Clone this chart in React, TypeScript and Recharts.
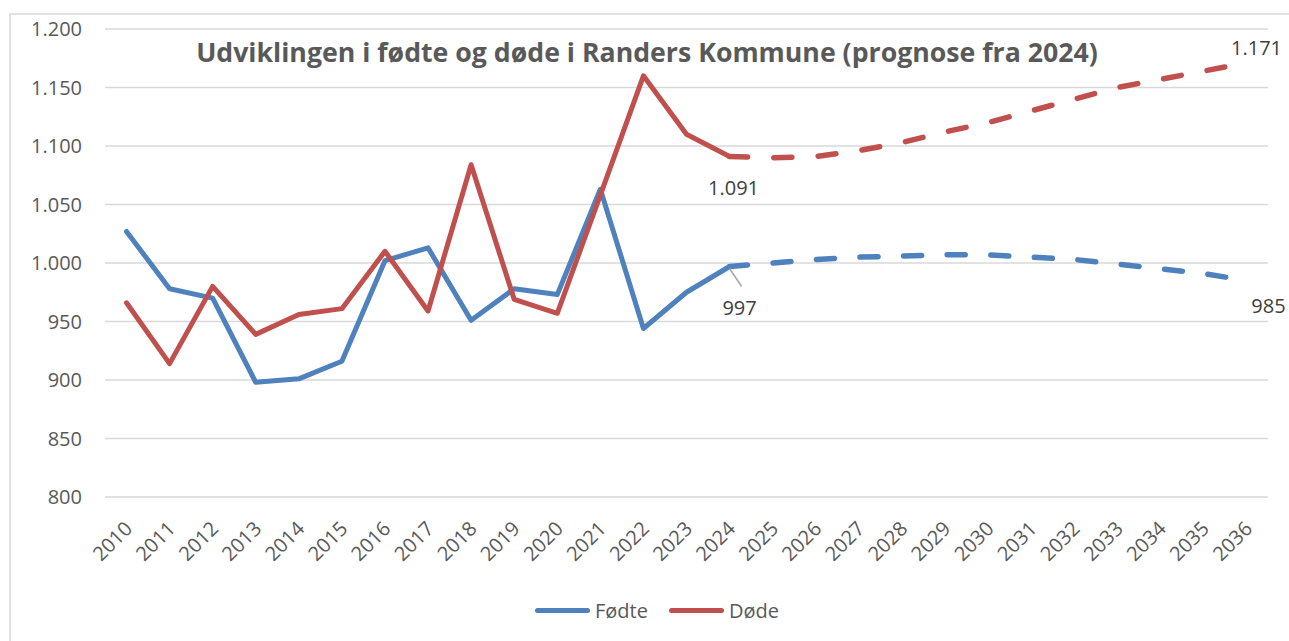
import React from 'react';
import { LineChart, Line, XAxis, YAxis, CartesianGrid, Legend, LabelList } from 'recharts';

const FONT = '"Open Sans", "Liberation Sans", sans-serif';
const BLUE = '#4F81BD';
const RED = '#C0504D';
const TEXT = '#595959';
const LABEL = '#404040';
const GRID = '#D9D9D9';

const years = [
  '2010', '2011', '2012', '2013', '2014', '2015', '2016', '2017', '2018', '2019',
  '2020', '2021', '2022', '2023', '2024', '2025', '2026', '2027', '2028', '2029',
  '2030', '2031', '2032', '2033', '2034', '2035', '2036',
];

// Historical values 2010-2024
const foedteHist = [1027, 978, 970, 898, 901, 916, 1002, 1013, 951, 978, 973, 1063, 944, 975, 997];
const doedeHist = [966, 914, 980, 939, 956, 961, 1010, 959, 1084, 969, 957, 1058, 1160, 1110, 1091];

// Forecast values 2024-2036
const foedteProg = [997, 1000, 1003, 1005, 1006, 1007, 1007, 1005, 1003, 999, 995, 991, 985];
const doedeProg = [1091, 1090, 1091, 1096, 1103, 1112, 1120, 1130, 1140, 1150, 1157, 1164, 1171];

const yTicks = [800, 850, 900, 950, 1000, 1050, 1100, 1150, 1200];

const legendItems = [
  { name: 'Fødte', color: BLUE },
  { name: 'Døde', color: RED },
];

const title = 'Udviklingen i fødte og døde i Randers Kommune (prognose fra 2024)';

const progStart = years.indexOf('2024');

const data = years.map((year, i) => ({
  year,
  fH: i < foedteHist.length ? foedteHist[i] : null,
  dH: i < doedeHist.length ? doedeHist[i] : null,
  fP: i >= progStart ? foedteProg[i - progStart] : null,
  dP: i >= progStart ? doedeProg[i - progStart] : null,
}));

const fmt = (v: number) => {
  if (v >= 1000) {
    const th = Math.floor(v / 1000);
    const rest = String(Math.round(v % 1000)).padStart(3, '0');
    return `${th}.${rest}`;
  }
  return String(v);
};

const XTick = (props: any) => {
  const { x, y, payload } = props;
  const ax = x + 7;
  const ay = y + 33;
  return (
    <text
      x={ax}
      y={ay}
      transform={`rotate(-45 ${ax} ${ay})`}
      textAnchor="end"
      fill={TEXT}
      fontSize={20}
      fontFamily={FONT}
    >
      {payload.value}
    </text>
  );
};

const lastIdx = years.length - 1;

const FoedteLabel = (props: any) => {
  const { x, y, value, index } = props;
  if (value == null) return null;
  if (index === progStart) {
    return (
      <g>
        <line x1={x} y1={y + 2} x2={x + 12} y2={y + 20} stroke="#A6A6A6" strokeWidth={1.5} />
        <text x={x + 10} y={y + 48} textAnchor="middle" fill={LABEL} fontSize={20} fontFamily={FONT}>
          {fmt(value)}
        </text>
      </g>
    );
  }
  if (index === lastIdx) {
    return (
      <text x={x + 22} y={y + 32} textAnchor="middle" fill={LABEL} fontSize={20} fontFamily={FONT}>
        {fmt(value)}
      </text>
    );
  }
  return null;
};

const DoedeLabel = (props: any) => {
  const { x, y, value, index } = props;
  if (value == null) return null;
  if (index === progStart) {
    return (
      <text x={x + 4} y={y + 38} textAnchor="middle" fill={LABEL} fontSize={20} fontFamily={FONT}>
        {fmt(value)}
      </text>
    );
  }
  if (index === lastIdx) {
    return (
      <text x={x + 10} y={y - 8} textAnchor="middle" fill={LABEL} fontSize={20} fontFamily={FONT}>
        {fmt(value)}
      </text>
    );
  }
  return null;
};

const LegendContent = () => (
  <div
    style={{
      display: 'flex',
      alignItems: 'center',
      height: 30,
      paddingLeft: 535,
      fontFamily: FONT,
      fontSize: 20,
      color: TEXT,
    }}
  >
    {legendItems.map((it, i) => (
      <div key={it.name} style={{ display: 'flex', alignItems: 'center', marginLeft: i === 0 ? 0 : 21 }}>
        <div style={{ width: 55, height: 5, borderRadius: 3, background: it.color, marginRight: 5 }} />
        <span>{it.name}</span>
      </div>
    ))}
  </div>
);

export default function App() {
  return (
    <div style={{ position: 'absolute', left: 0, top: 0, width: 1289, height: 641, background: '#fff', overflow: 'hidden' }}>
      <LineChart
        width={1289}
        height={641}
        data={data}
        margin={{ top: 29, right: 21, left: 10, bottom: 16 }}
      >
        <CartesianGrid vertical={false} stroke={GRID} strokeWidth={1.5} />
        <XAxis
          dataKey="year"
          interval={0}
          tickSize={0}
          tickMargin={0}
          axisLine={false}
          tickLine={false}
          height={98}
          padding={{ left: 21.5, right: 21.5 }}
          tick={<XTick />}
        />
        <YAxis
          width={95}
          domain={[800, 1200]}
          ticks={yTicks}
          interval={0}
          axisLine={false}
          tickLine={false}
          tickSize={0}
          tickMargin={23}
          tickFormatter={fmt}
          tick={{ fill: TEXT, fontSize: 20, fontFamily: FONT }}
        />
        <Legend verticalAlign="bottom" wrapperStyle={{ left: 0, width: 1289, height: 30 }} content={<LegendContent />} />
        <Line
          dataKey="fH"
          name="Fødte"
          stroke={BLUE}
          strokeWidth={5}
          strokeLinejoin="round"
          strokeLinecap="round"
          dot={false}
          activeDot={false}
          isAnimationActive={false}
        />
        <Line
          dataKey="fP"
          name="Fødte prognose"
          legendType="none"
          stroke={BLUE}
          strokeWidth={5.5}
          strokeDasharray="18 25.6"
          strokeLinecap="round"
          dot={false}
          activeDot={false}
          isAnimationActive={false}
        >
          <LabelList dataKey="fP" content={<FoedteLabel />} />
        </Line>
        <Line
          dataKey="dH"
          name="Døde"
          stroke={RED}
          strokeWidth={5}
          strokeLinejoin="round"
          strokeLinecap="round"
          dot={false}
          activeDot={false}
          isAnimationActive={false}
        />
        <Line
          dataKey="dP"
          name="Døde prognose"
          legendType="none"
          stroke={RED}
          strokeWidth={5.5}
          strokeDasharray="18 26.3"
          strokeLinecap="round"
          dot={false}
          activeDot={false}
          isAnimationActive={false}
        >
          <LabelList dataKey="dP" content={<DoedeLabel />} />
        </Line>
      </LineChart>
      <svg
        width={1289}
        height={641}
        style={{ position: 'absolute', left: 0, top: 0, pointerEvents: 'none' }}
      >
        <rect x={10} y={14} width={1300} height={700} fill="none" stroke={GRID} strokeWidth={1.5} />
        <text
          x={647}
          y={62}
          textAnchor="middle"
          fill={TEXT}
          fontSize={26.7}
          fontWeight="bold"
          fontFamily={FONT}
        >
          {title}
        </text>
      </svg>
    </div>
  );
}
